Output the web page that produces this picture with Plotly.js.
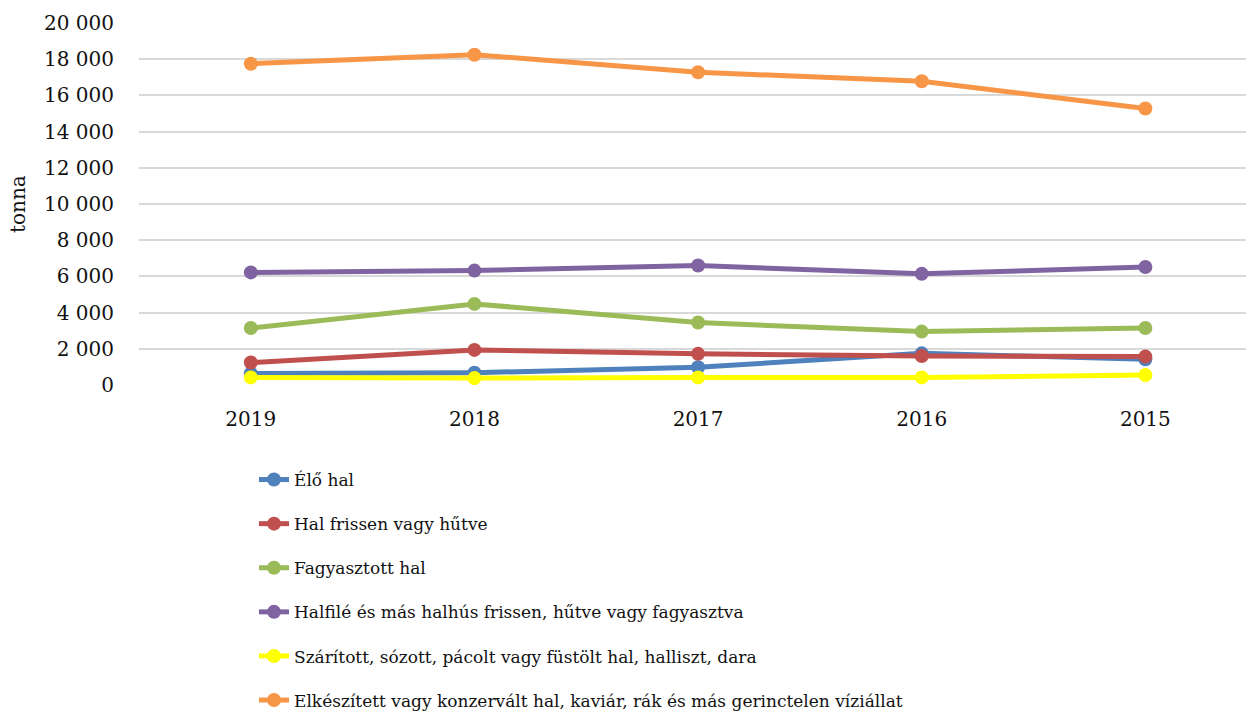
<!DOCTYPE html>
<html>
<head>
<meta charset="utf-8">
<script src="https://cdn.plot.ly/plotly-3.0.1.min.js"></script>
<style>html,body{margin:0;padding:0;background:#fff;}#chart{width:1246px;height:713px;}</style>
</head>
<body>
<div id="chart"></div>
<script>
const years = ["2019", "2018", "2017", "2016", "2015"];
const eloHal = [640, 680, 980, 1750, 1420];
const halFrissen = [1240, 1940, 1720, 1600, 1570];
const fagyasztott = [3150, 4480, 3450, 2950, 3150];
const halfile = [6220, 6320, 6600, 6140, 6520];
const szaritott = [420, 380, 420, 420, 550];
const elkeszitett = [17750, 18250, 17280, 16780, 15280];

const seriesNames = [
  "Élő hal",
  "Hal frissen vagy hűtve",
  "Fagyasztott hal",
  "Halfilé és más halhús frissen, hűtve vagy fagyasztva",
  "Szárított, sózott, pácolt vagy füstölt hal, halliszt, dara",
  "Elkészített vagy konzervált hal, kaviár, rák és más gerinctelen víziállat"
];
const seriesValues = [eloHal, halFrissen, fagyasztott, halfile, szaritott, elkeszitett];
const colors = ["#4F81BD", "#C0504D", "#9BBB59", "#8064A2", "#FFFF00", "#F79646"];
const yTitle = "tonna";

const FONT = "DejaVu Serif";

const traces = seriesNames.map((n, i) => ({
  type: "scatter",
  mode: "lines+markers",
  name: n,
  x: years,
  y: seriesValues[i],
  legendgroup: "g" + i,
  line: {color: colors[i], width: 5},
  marker: {color: colors[i], size: 14},
  hoverinfo: "skip"
}));

const layout = {
  width: 1246,
  height: 713,
  margin: {l: 139, r: 0, t: 23, b: 328, autoexpand: false},
  paper_bgcolor: "#fff",
  plot_bgcolor: "#fff",
  showlegend: true,
  xaxis: {
    type: "category",
    range: [-0.5, 4.45],
    showgrid: false,
    zeroline: false,
    showline: false,
    ticks: "outside",
    ticklen: 16,
    tickcolor: "rgba(0,0,0,0)",
    tickfont: {family: FONT, size: 20, color: "#111"}
  },
  yaxis: {
    range: [0, 20000],
    tickvals: [0, 2000, 4000, 6000, 8000, 10000, 12000, 14000, 16000, 18000, 20000],
    ticktext: ["0", "2 000", "4 000", "6 000", "8 000", "10 000", "12 000", "14 000", "16 000", "18 000", "20 000"],
    showgrid: true,
    gridcolor: "#D9D9D9",
    gridwidth: 2,
    zeroline: false,
    showline: false,
    ticks: "outside",
    ticklen: 20,
    tickcolor: "rgba(0,0,0,0)",
    tickfont: {family: FONT, size: 20, color: "#111"}
  },
  annotations: [{
    text: yTitle,
    xref: "paper",
    yref: "paper",
    x: (18 - 139) / 1107,
    y: 0.5,
    xanchor: "center",
    yanchor: "middle",
    textangle: -90,
    showarrow: false,
    font: {family: FONT, size: 20, color: "#111"}
  }],
  legend: {
    orientation: "v",
    xref: "container",
    yref: "container",
    x: 254 / 1246,
    xanchor: "left",
    y: (713 - 462) / 713,
    yanchor: "top",
    traceorder: "grouped",
    tracegroupgap: 19,
    font: {family: FONT, size: 17, color: "#111"},
    bgcolor: "rgba(0,0,0,0)"
  }
};

Plotly.newPlot("chart", traces, layout, {displayModeBar: false, staticPlot: true});
</script>
</body>
</html>
